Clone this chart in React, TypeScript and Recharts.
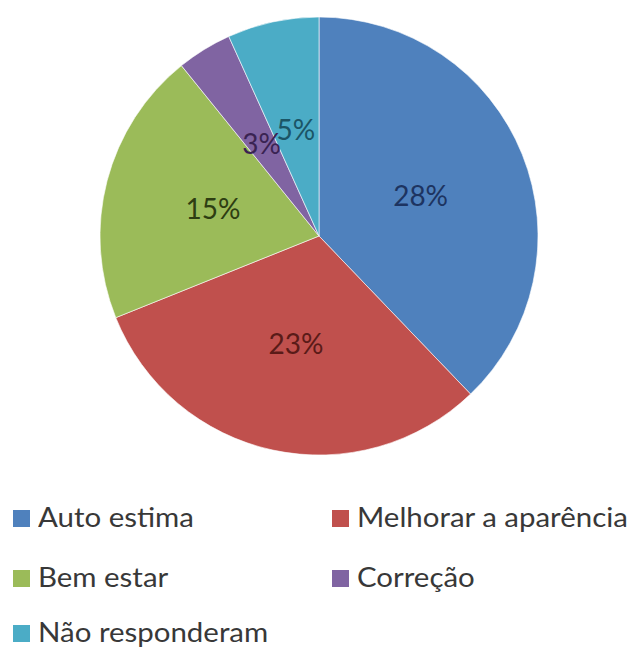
import React from "react";
import { PieChart, Pie, Cell, Legend } from "recharts";

const categories = ["Auto estima", "Melhorar a aparência", "Bem estar", "Correção", "Não responderam"];
const values = [28, 23, 15, 3, 5];
const colors = ["#4F81BD", "#C0504D", "#9BBB59", "#8064A2", "#4BACC6"];
const labelColors = ["#1d3461", "#5a1b18", "#2e3e12", "#3a2352", "#1b5566"];

const data = categories.map((name, i) => ({ name, value: values[i] }));

const FONT = "Lato, 'Open Sans', sans-serif";
const RAD = Math.PI / 180;

const renderLabel = (props: any) => {
  const { cx, cy, midAngle, outerRadius, value, index } = props;
  const r = outerRadius * 0.5;
  const x = cx + r * Math.cos(-midAngle * RAD);
  const y = cy + r * Math.sin(-midAngle * RAD);
  return (
    <text
      x={x}
      y={y}
      fill={labelColors[index]}
      textAnchor="middle"
      dominantBaseline="central"
      fontFamily={FONT}
      fontSize={28}
    >
      {`${value}%`}
    </text>
  );
};

const colX = [13, 332];
const capTop = [507, 567, 622];

const LegendContent = (props: any) => {
  const payload = [...(props.payload || [])].sort(
    (a: any, b: any) => categories.indexOf(a.value) - categories.indexOf(b.value)
  );
  return (
    <div style={{ position: "relative", width: 640, height: 148 }}>
      {payload.map((entry: any, i: number) => {
        const col = i % 2;
        const row = Math.floor(i / 2);
        const y0 = capTop[row] - 500;
        return (
          <React.Fragment key={i}>
            <span
              style={{
                position: "absolute",
                left: colX[col],
                top: y0 + 3,
                width: 17,
                height: 17,
                background: entry.color,
              }}
            />
            <span
              style={{
                position: "absolute",
                left: colX[col] + 25,
                top: y0 - 4.5,
                fontFamily: FONT,
                fontSize: 27,
                lineHeight: 1,
                color: "#383838",
                whiteSpace: "nowrap",
                transform: "scaleX(1.09)",
                transformOrigin: "left center",
              }}
            >
              {entry.value}
            </span>
          </React.Fragment>
        );
      })}
    </div>
  );
};

export default function App() {
  return (
    <div style={{ position: "absolute", left: 0, top: 0, width: 640, height: 648, background: "#fff", overflow: "hidden" }}>
      <PieChart width={640} height={648} margin={{ top: 0, right: 0, bottom: 0, left: 0 }}>
        <Pie
          data={data}
          dataKey="value"
          nameKey="name"
          cx={319}
          cy={236}
          outerRadius={219}
          startAngle={90}
          endAngle={-270}
          stroke="rgba(255,255,255,0.6)"
          strokeWidth={1}
          label={renderLabel}
          labelLine={false}
          isAnimationActive={false}
        >
          {data.map((d, i) => (
            <Cell key={d.name} fill={colors[i]} />
          ))}
        </Pie>
        <Legend
          layout="horizontal"
          verticalAlign="middle"
          align="center"
          wrapperStyle={{ left: 0, top: 500, width: 640, height: 148 }}
          content={<LegendContent />}
        />
      </PieChart>
    </div>
  );
}
